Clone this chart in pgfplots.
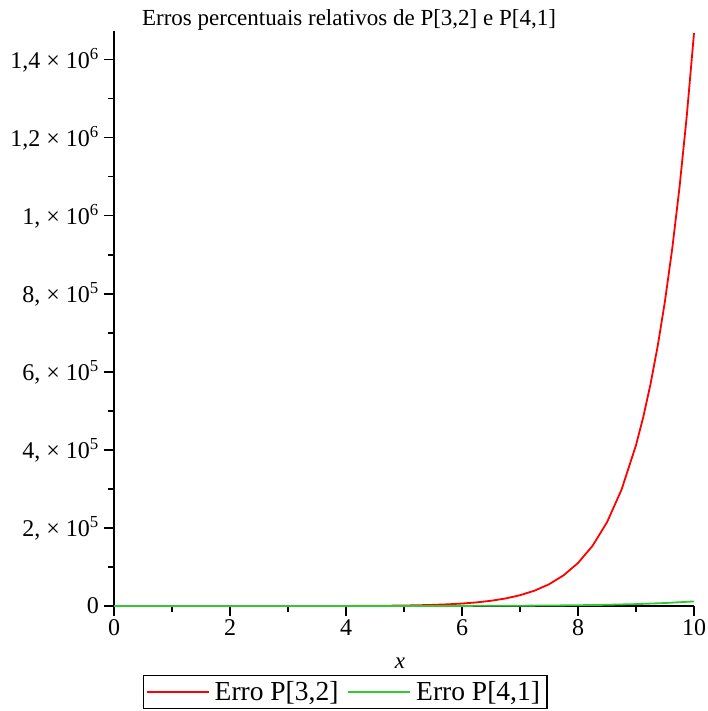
\documentclass[border=0pt]{standalone}
\usepackage{pgfplots}
\pgfplotsset{compat=1.18}
\usepackage{fontspec}
\setmainfont{Liberation Serif}
\definecolor{mred}{RGB}{255,0,0}
\definecolor{mgreen}{RGB}{50,200,50}
\begin{document}
\begin{tikzpicture}[x=1pt,y=1pt]
\useasboundingbox (0,0) rectangle (707,711);
\begin{axis}[
  at={(114pt,105pt)}, anchor=south west,
  width=580pt, height=575pt, scale only axis,
  xmin=0, xmax=10, ymin=0, ymax=1474000,
  axis lines=left, axis line style={-, line width=1.2pt},
  tick align=outside,
  major tick length=10pt, minor tick length=6pt,
  every tick/.style={black, line width=1.2pt},
  xtick={0,2,4,6,8,10}, xticklabels={0,2,4,6,8,10},
  minor xtick={1,3,5,7,9},
  ytick={0,200000,400000,600000,800000,1000000,1200000,1400000},
  minor ytick={100000,300000,500000,700000,900000,1100000,1300000},
  yticklabels={0,{2, × 10\textsuperscript{5}},{4, × 10\textsuperscript{5}},{6, × 10\textsuperscript{5}},{8, × 10\textsuperscript{5}},{1, × 10\textsuperscript{6}},{1,2 × 10\textsuperscript{6}},{1,4 × 10\textsuperscript{6}}},
  scaled y ticks=false,
  ticklabel style={font=\fontsize{24}{24}\selectfont},
  yticklabel style={inner xsep=5pt},
  legend columns=2,
  legend style={at={(axis description cs:0.399,-0.1496)}, anchor=center,
    draw=black, line width=1.2pt, font=\fontsize{27.5}{27.5}\selectfont,
    inner xsep=2pt, inner ysep=1pt,
    nodes={inner ysep=5pt, inner xsep=5pt},
    /tikz/every even column/.append style={column sep=4pt}},
  legend image code/.code={\draw[#1] (0pt,0pt) -- (62pt,0pt);},
  clip=false,
]
\addplot[mred, line width=1.8pt] coordinates {
(0,0) (1,0.017) (2,1.48) (3,24.2) (4,207) (4.25,333.6) (4.5,527.9) (4.75,822.6)
(5,1264.0) (5.25,1918.6) (5.5,2880.1) (5.75,4281) (6,6306.6) (6.25,9215.8)
(6.5,13369) (6.75,19264) (7,27589) (7.25,39291) (7.5,55668) (7.75,78498)
(8,110207) (8.25,154098) (8.5,214658) (8.75,297973) (9,412280) (9.125,484390)
(9.25,568706) (9.375,667220) (9.5,782257) (9.625,916520) (9.75,1073150)
(9.875,1255740) (10,1468532)
};
\addlegendentry{Erro P[3,2]}
\addplot[mgreen, line width=1.8pt] coordinates {
(0,0) (1,0.01) (2,0.74) (3,6.3) (4,29.1) (5,100) (6,293) (7,783.5) (7.5,1254)
(8,1985) (8.5,3120) (9,4874) (9.5,7581) (10,11754)
};
\addlegendentry{Erro P[4,1]}
\end{axis}
\node[anchor=base, font=\fontsize{23}{23}\selectfont] at (349,685) {Erros percentuais relativos de P[3,2] e P[4,1]};
\node[font=\fontsize{23}{23}\selectfont\itshape] at (400,48) {x};
\end{tikzpicture}
\end{document}
